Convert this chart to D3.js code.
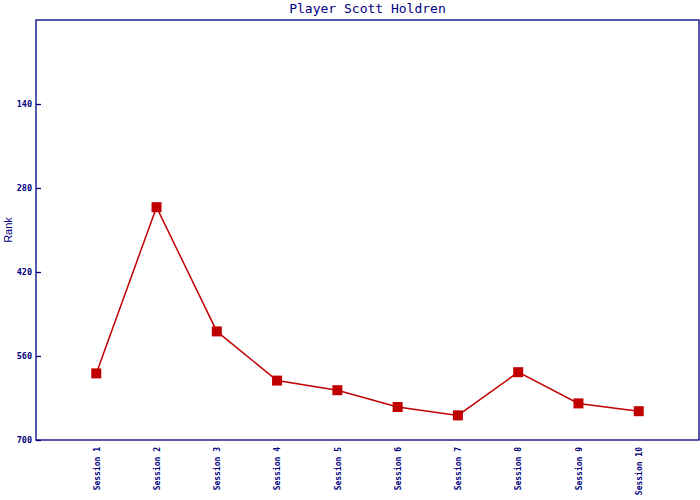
<!DOCTYPE html>
<html><head><meta charset="utf-8">
<script src="https://cdn.jsdelivr.net/npm/d3@7"></script>
<style>body{margin:0;background:#fff}</style>
</head><body>
<svg id="c" width="700" height="500"></svg>
<script>
const sessions = ["Session 1","Session 2","Session 3","Session 4","Session 5","Session 6","Session 7","Session 8","Session 9","Session 10"];
const ranks = [589, 312, 519, 601, 617, 645, 659, 587, 639, 652];
const yTicks = [140, 280, 420, 560, 700];
const title = "Player Scott Holdren";
const yLabel = "Rank";

const navy = "#000080", red = "#c00000";
const L = 36, R = 699, T = 20, B = 440;
const svg = d3.select("#c");
const x = d3.scalePoint().domain(sessions).range([L, R]).padding(1);
const y = d3.scaleLinear().domain([0, 700]).range([T, B]);

svg.append("rect").attr("x", L).attr("y", T).attr("width", R - L).attr("height", B - T)
  .attr("fill", "none").attr("stroke", navy).attr("stroke-width", 1.3);

const yAxis = svg.append("g").attr("transform", `translate(${L},0)`)
  .call(d3.axisRight(y).tickValues(yTicks).tickSize(5).tickFormat(d3.format("d")));
yAxis.select(".domain").remove();
yAxis.selectAll("line").attr("stroke", navy).attr("stroke-width", 1.3);
yAxis.selectAll("text").attr("x", -4).attr("text-anchor", "end").attr("fill", navy)
  .attr("font-family", "DejaVu Sans Mono, monospace").attr("font-size", 8.5).attr("font-weight", "bold");

const xAxis = svg.append("g").attr("transform", `translate(0,${B})`)
  .call(d3.axisBottom(x).tickSize(0));
xAxis.select(".domain").remove();
xAxis.selectAll("text").attr("transform", "rotate(-90)").attr("x", -7).attr("y", 0).attr("dy", "0.35em")
  .attr("text-anchor", "end").attr("fill", navy)
  .attr("font-family", "DejaVu Sans Mono, monospace").attr("font-size", 8).attr("font-weight", "bold");

const line = d3.line().x((d, i) => x(sessions[i])).y(d => y(d));
svg.append("path").datum(ranks).attr("d", line).attr("fill", "none").attr("stroke", red).attr("stroke-width", 1.5);

svg.selectAll("rect.m").data(ranks).join("rect").attr("class", "m")
  .attr("x", (d, i) => x(sessions[i]) - 5).attr("y", d => y(d) - 5)
  .attr("width", 10).attr("height", 10).attr("fill", red);

svg.append("text").attr("x", (L + R) / 2).attr("y", 13).attr("text-anchor", "middle")
  .attr("fill", navy).attr("font-family", "DejaVu Sans Mono, monospace").attr("font-size", 13).text(title);

svg.append("text").attr("transform", `translate(12,${(T + B) / 2}) rotate(-90)`).attr("text-anchor", "middle")
  .attr("fill", navy).attr("font-family", "Liberation Sans, Arial, sans-serif").attr("font-size", 11).text(yLabel);
</script>
</body></html>
